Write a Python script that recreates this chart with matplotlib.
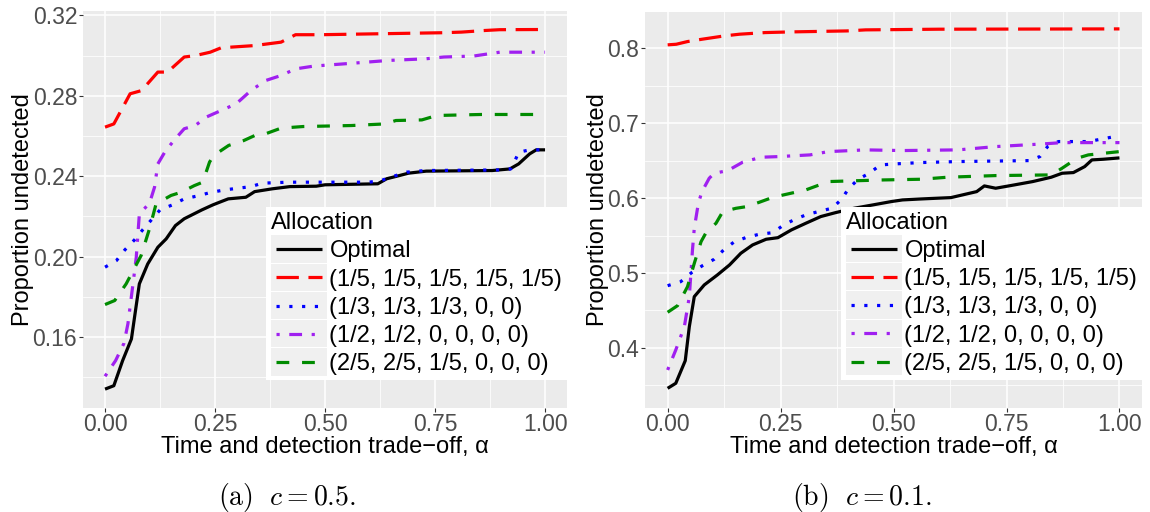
import matplotlib
matplotlib.use('Agg')
import matplotlib.pyplot as plt
from matplotlib.legend_handler import HandlerLine2D
from matplotlib.patches import Rectangle
from matplotlib.ticker import FixedLocator, FormatStrFormatter

plt.rcParams['font.family'] = ['Liberation Sans', 'DejaVu Sans']
plt.rcParams['mathtext.fontset'] = 'cm'

LABELS = ['Optimal', '(1/5, 1/5, 1/5, 1/5, 1/5)', '(1/3, 1/3, 1/3, 0, 0)',
          '(1/2, 1/2, 0, 0, 0, 0)', '(2/5, 2/5, 1/5, 0, 0, 0)']

# ── panel (a): c = 0.5 ──────────────────────────────────────────────────────
opt_a_x = [0, 0.02, 0.04, 0.06, 0.067, 0.078, 0.097, 0.12, 0.139, 0.16, 0.18, 0.22,
           0.245, 0.26, 0.28, 0.32, 0.34, 0.38, 0.42, 0.48, 0.5, 0.62, 0.64, 0.66,
           0.69, 0.73, 0.88, 0.92, 0.94, 0.965, 0.98, 1.0]
opt_a_y = [0.134, 0.1357, 0.1482, 0.159, 0.1697, 0.1864, 0.1963, 0.2046, 0.2088,
           0.2154, 0.2188, 0.2232, 0.2257, 0.227, 0.2287, 0.2295, 0.2323, 0.2337,
           0.2348, 0.235, 0.2357, 0.2362, 0.2387, 0.2398, 0.2415, 0.2425, 0.2428,
           0.2436, 0.2461, 0.2511, 0.2531, 0.2531]
red_a_x = [0, 0.02, 0.057, 0.083, 0.12, 0.142, 0.18, 0.205, 0.239, 0.264, 0.34, 0.4,
           0.433, 0.49, 0.63, 0.77, 0.81, 0.863, 0.897, 1.0]
red_a_y = [0.2644, 0.266, 0.281, 0.2826, 0.2918, 0.2918, 0.2993, 0.300, 0.3017, 0.3039,
           0.305, 0.3067, 0.3104, 0.3104, 0.3109, 0.3114, 0.3117, 0.3125, 0.3129, 0.313]
blue_a_x = [0, 0.026, 0.045, 0.067, 0.086, 0.106, 0.125, 0.153, 0.18, 0.211, 0.24,
            0.273, 0.332, 0.357, 0.416, 0.6, 0.627, 0.661, 0.686, 0.728, 0.897, 0.922,
            0.93, 0.94, 0.965, 1.0]
blue_a_y = [0.1947, 0.198, 0.2033, 0.2083, 0.2134, 0.2184, 0.2232, 0.2257, 0.2287,
            0.2302, 0.2319, 0.2332, 0.2348, 0.2365, 0.237, 0.237, 0.2378, 0.2403,
            0.242, 0.2428, 0.2431, 0.2436, 0.2469, 0.2519, 0.2531, 0.2531]
purple_a_x = [0, 0.024, 0.043, 0.052, 0.065, 0.071, 0.078, 0.101, 0.1125, 0.12, 0.138,
              0.163, 0.18, 0.205, 0.23, 0.264, 0.298, 0.332, 0.365, 0.4, 0.433, 0.475,
              0.568, 0.644, 0.728, 0.77, 0.838, 0.872, 0.897, 1.0]
purple_a_y = [0.1404, 0.1482, 0.1568, 0.1665, 0.1889, 0.1997, 0.2212, 0.2265, 0.2345,
              0.2461, 0.2528, 0.2594, 0.2636, 0.2652, 0.2694, 0.2727, 0.276, 0.2827,
              0.2876, 0.2901, 0.2934, 0.2948, 0.2963, 0.2976, 0.2984, 0.2993, 0.2998,
              0.3009, 0.3017, 0.3017]
green_a_x = [0, 0.022, 0.048, 0.082, 0.101, 0.116, 0.15, 0.173, 0.203, 0.222, 0.2375,
             0.247, 0.281, 0.315, 0.34, 0.365, 0.4, 0.45, 0.56, 0.636, 0.661, 0.72,
             0.754, 0.855, 0.973, 1.0]
green_a_y = [0.1761, 0.1781, 0.1864, 0.2005, 0.2138, 0.2262, 0.2304, 0.232, 0.2353,
             0.237, 0.247, 0.2503, 0.2553, 0.2577, 0.2602, 0.2611, 0.2639, 0.2647,
             0.2652, 0.266, 0.2677, 0.268, 0.2702, 0.2707, 0.2707, 0.2719]

# ── panel (b): c = 0.1 ──────────────────────────────────────────────────────
opt_b_x = [0, 0.018, 0.039, 0.048, 0.059, 0.081, 0.11, 0.137, 0.162, 0.188, 0.218,
           0.244, 0.274, 0.306, 0.339, 0.372, 0.413, 0.454, 0.495, 0.52, 0.561, 0.627,
           0.684, 0.701, 0.726, 0.767, 0.808, 0.849, 0.873, 0.898, 0.923, 0.939,
           0.964, 1.0]
opt_b_y = [0.346, 0.3527, 0.3829, 0.4283, 0.4684, 0.484, 0.4973, 0.5107, 0.5263,
           0.5374, 0.545, 0.5471, 0.5575, 0.5664, 0.5753, 0.5806, 0.5864, 0.5908,
           0.5953, 0.5975, 0.5988, 0.6006, 0.6086, 0.6162, 0.6131, 0.6175, 0.622,
           0.6278, 0.6331, 0.634, 0.642, 0.6509, 0.6518, 0.6536]
red_b_x = [0, 0.019, 0.044, 0.076, 0.126, 0.159, 0.216, 0.274, 0.397, 0.438, 0.602, 1.0]
red_b_y = [0.8045, 0.8053, 0.8089, 0.812, 0.8165, 0.8187, 0.8209, 0.8218, 0.8231,
           0.8245, 0.8254, 0.8258]
blue_b_x = [0, 0.029, 0.053, 0.077, 0.103, 0.124, 0.148, 0.175, 0.203, 0.233, 0.257,
            0.282, 0.306, 0.339, 0.364, 0.385, 0.401, 0.422, 0.446, 0.471, 0.504,
            0.561, 0.643, 0.8, 0.824, 0.841, 0.865, 0.931, 0.989, 1.0]
blue_b_y = [0.483, 0.4884, 0.5004, 0.5097, 0.5183, 0.5307, 0.5418, 0.5476, 0.5517,
            0.5538, 0.5641, 0.5717, 0.5775, 0.5828, 0.5864, 0.5984, 0.6131, 0.6251,
            0.6331, 0.6442, 0.6456, 0.6474, 0.6487, 0.65, 0.6554, 0.6687, 0.6754,
            0.6754, 0.682, 0.681]
purple_b_x = [0, 0.018, 0.037, 0.048, 0.055, 0.059, 0.068, 0.076, 0.092, 0.103, 0.133,
              0.166, 0.207, 0.244, 0.315, 0.356, 0.438, 0.52, 0.643, 0.726, 0.832,
              0.873, 1.0]
purple_b_y = [0.3705, 0.3972, 0.4283, 0.4684, 0.5307, 0.5597, 0.5931, 0.6086, 0.6264,
              0.6331, 0.6366, 0.6478, 0.6545, 0.6553, 0.6576, 0.662, 0.6643, 0.6634,
              0.6643, 0.6687, 0.6723, 0.674, 0.674]
green_b_x = [0, 0.022, 0.044, 0.059, 0.074, 0.085, 0.107, 0.122, 0.151, 0.174, 0.203,
             0.233, 0.306, 0.356, 0.405, 0.479, 0.561, 0.619, 0.726, 0.849, 0.873,
             0.906, 0.931, 1.0]
green_b_y = [0.4475, 0.4564, 0.4817, 0.5129, 0.5418, 0.5538, 0.5663, 0.5818, 0.5863,
             0.5885, 0.5944, 0.601, 0.6109, 0.622, 0.6229, 0.6242, 0.6251, 0.6278,
             0.63, 0.6309, 0.6398, 0.6531, 0.6576, 0.662]

x_ticks = [0.0, 0.25, 0.5, 0.75, 1.0]
y_ticks_a = [0.16, 0.20, 0.24, 0.28, 0.32]
y_ticks_b = [0.4, 0.5, 0.6, 0.7, 0.8]

STYLES = [
    dict(color='black', ls='-'),
    dict(color='#FF0000', ls=(0, (7, 3))),
    dict(color='#0000FF', ls=(0, (1, 3))),
    dict(color='#A020F0', ls=(0, (1, 3, 4, 3))),
    dict(color='#008B00', ls=(0, (4, 4))),
]
FS = 17
TICK_FS = 16.5
LW = 2.3


class KeyBg(HandlerLine2D):
    # ggplot-style grey box behind each legend key
    def create_artists(self, legend, orig_handle, xdescent, ydescent,
                       width, height, fontsize, trans):
        arts = super().create_artists(legend, orig_handle, xdescent, ydescent,
                                      width, height, fontsize, trans)
        yc = (height - ydescent) / 2.
        bh = 19.6
        bg = Rectangle((-xdescent, yc - bh / 2), width, bh,
                       facecolor='#F0F0F0', edgecolor='none', transform=trans)
        return [bg] + arts


def panel(ax, series, yticks, ylim, yminor, yfmt):
    ax.set_facecolor('#EBEBEB')
    for s in ax.spines.values():
        s.set_visible(False)
    ax.set_xlim(-0.05, 1.05)
    ax.set_ylim(*ylim)
    ax.xaxis.set_major_locator(FixedLocator(x_ticks))
    ax.xaxis.set_minor_locator(FixedLocator([0.125, 0.375, 0.625, 0.875]))
    ax.yaxis.set_major_locator(FixedLocator(yticks))
    ax.yaxis.set_minor_locator(FixedLocator(yminor))
    ax.xaxis.set_major_formatter(FormatStrFormatter('%.2f'))
    ax.yaxis.set_major_formatter(FormatStrFormatter(yfmt))
    ax.grid(which='major', color='white', lw=1.1)
    ax.grid(which='minor', color='white', lw=0.55)
    ax.set_axisbelow(True)
    ax.tick_params(which='major', length=3.2, width=0.8, color='#333333',
                   labelsize=TICK_FS, labelcolor='#4D4D4D')
    ax.tick_params(axis='y', pad=1.0)
    ax.tick_params(axis='x', pad=0.5)
    ax.tick_params(which='minor', length=0)
    handles = []
    for (xs, ys), st, lab in zip(series, STYLES, LABELS):
        ln, = ax.plot(xs, ys, color=st['color'], ls=st['ls'], lw=LW,
                      dash_capstyle='butt', solid_capstyle='butt', label=lab)
        handles.append(ln)
    ax.set_xlabel('Time and detection trade\u2212off, \u03b1', fontsize=FS, labelpad=0)
    ax.set_ylabel('Proportion undetected', fontsize=FS, labelpad=-1)
    hmap = {ln: KeyBg(marker_pad=0.22, numpoints=2) for ln in handles}
    leg = ax.legend(handles=handles, title='Allocation', loc='lower right',
                    bbox_to_anchor=(1.0, 0.0705), borderaxespad=0, fontsize=FS,
                    title_fontsize=FS, alignment='left', frameon=True,
                    fancybox=False, framealpha=1, facecolor='white',
                    edgecolor='none', handlelength=2.37, handleheight=0.7,
                    handletextpad=0.1, labelspacing=0.265, borderpad=0.2,
                    handler_map=hmap)
    return leg


fig = plt.figure(figsize=(11.5, 5.12), dpi=100)
ax1 = fig.add_axes([0.0722, 0.2031, 0.4209, 0.7754])
ax2 = fig.add_axes([0.5609, 0.2041, 0.4322, 0.7734])

panel(ax1, [(opt_a_x, opt_a_y), (red_a_x, red_a_y), (blue_a_x, blue_a_y),
            (purple_a_x, purple_a_y), (green_a_x, green_a_y)],
      y_ticks_a, (0.1246, 0.3222), [0.14, 0.18, 0.22, 0.26, 0.30], '%.2f')
panel(ax2, [(opt_b_x, opt_b_y), (red_b_x, red_b_y), (blue_b_x, blue_b_y),
            (purple_b_x, purple_b_y), (green_b_x, green_b_y)],
      y_ticks_b, (0.3204, 0.849), [0.35, 0.45, 0.55, 0.65, 0.75], '%.1f')

fig.text(218 / 1150, 1 - 497 / 512, r'$\mathrm{(a)}\ \ c = 0.5.$', ha='left',
         va='center', fontsize=20)
fig.text(792 / 1150, 1 - 497 / 512, r'$\mathrm{(b)}\ \ c = 0.1.$', ha='left',
         va='center', fontsize=20)

fig.savefig('out.png', dpi=100, facecolor='white')
